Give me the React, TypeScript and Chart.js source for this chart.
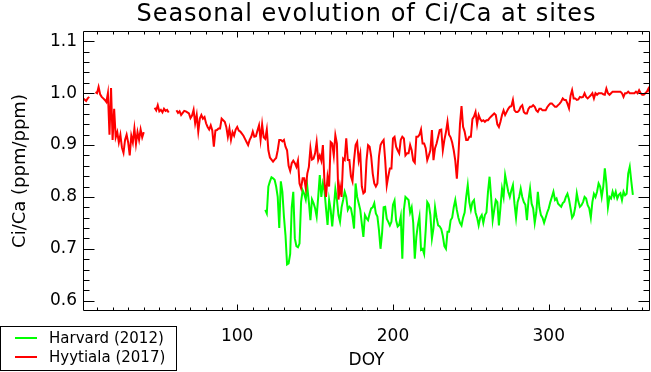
import { useEffect, useRef } from "react";
import { Chart, registerables } from "chart.js";

Chart.register(...registerables);

const TITLE = "Seasonal evolution of Ci/Ca at sites";
const X_TITLE = "DOY";
const Y_TITLE = "Ci/Ca (ppm/ppm)";
const X_TICKS = [100, 200, 300];
const Y_TICKS = [0.6, 0.7, 0.8, 0.9, 1.0, 1.1];
const X_MIN = 1;
const X_MAX = 365;
const Y_MIN = 0.58;
const Y_MAX = 1.12;

const HARVARD_LABEL = "Harvard (2012)";
const HYYTIALA_LABEL = "Hyytiala (2017)";

// Harvard 2012, one value per DOY starting at DOY 118
const HARVARD_FIRST_DOY = 118;
const HARVARD: (number | null)[] = [
  0.775, 0.768, 0.820, 0.830, 0.838, 0.836, 0.833, 0.820, 0.800, 0.740, // 118-127
  0.830, 0.810, 0.762, 0.726, 0.670, 0.672, 0.690, 0.780, 0.810, 0.720, // 128-137
  0.705, 0.703, 0.710, 0.790, 0.813, 0.806, 0.795, 0.820, 0.790, 0.755, // 138-147
  0.795, 0.788, 0.778, 0.762, 0.800, 0.842, 0.800, 0.826, 0.813, 0.778, // 148-157
  0.746, 0.794, 0.775, 0.743, 0.778, 0.815, 0.795, 0.765, 0.752, 0.780, // 158-167
  0.794, 0.810, 0.800, 0.775, 0.781, 0.778, 0.762, 0.739, 0.826, 0.800, // 168-177
  0.788, 0.775, 0.748, 0.723, 0.765, 0.759, 0.755, 0.768, 0.778, 0.780, // 178-187
  0.788, 0.768, 0.762, 0.736, 0.700, 0.730, 0.780, 0.781, 0.758, 0.752, // 188-197
  0.745, 0.752, 0.785, 0.793, 0.755, 0.743, 0.746, 0.762, 0.681, 0.775, // 198-207
  0.800, 0.797, 0.794, 0.770, 0.780, 0.750, 0.681, 0.723, 0.746, 0.762, // 208-217
  0.698, 0.700, 0.690, 0.736, 0.790, 0.785, 0.765, 0.720, 0.740, 0.780, // 218-227
  0.760, 0.745, 0.743, 0.738, 0.725, 0.705, 0.700, 0.733, 0.733, 0.755, // 228-237
  0.760, 0.780, 0.794, 0.775, 0.760, 0.750, 0.745, 0.760, 0.770, 0.800, // 238-247
  0.823, 0.790, 0.775, 0.790, 0.794, 0.770, 0.760, 0.745, 0.760, 0.765, // 248-257
  0.750, 0.765, 0.770, 0.810, 0.839, 0.800, 0.755, 0.775, 0.794, 0.790, // 258-267
  0.745, 0.780, 0.816, 0.800, 0.842, 0.826, 0.810, 0.800, 0.813, 0.823, // 268-277
  0.787, 0.760, 0.790, 0.800, 0.816, 0.800, 0.790, 0.785, 0.755, 0.794, // 278-287
  0.816, 0.787, 0.778, 0.750, 0.770, 0.810, 0.780, 0.765, 0.760, 0.750, // 288-297
  0.760, 0.770, 0.778, 0.790, 0.800, 0.810, 0.794, 0.797, 0.787, 0.784, // 298-307
  0.781, 0.788, 0.791, 0.800, 0.806, 0.795, 0.778, 0.760, 0.765, 0.780, // 308-317
  0.807, 0.791, 0.781, 0.784, 0.790, 0.800, 0.797, 0.784, 0.778, 0.760, // 318-327
  0.790, 0.806, 0.800, 0.810, 0.826, 0.820, 0.800, 0.820, 0.855, 0.826, // 328-337
  0.780, 0.800, 0.797, 0.810, 0.800, 0.810, 0.797, 0.804, 0.807, 0.794, // 338-347
  0.810, 0.803, 0.806, 0.845, 0.858, 0.830, 0.804, // 348-354
];

// Hyytiala 2017, one value per DOY starting at DOY 1 (null = missing)
const HYYTIALA_FIRST_DOY = 1;
const HYYTIALA: (number | null)[] = [
  0.990, 0.988, 0.985, 0.990, 0.993, null, null, null, // 1-8
  1.002, 1.000, 1.012, 0.998, 0.993, 0.990, 0.987, 0.983, 1.000, 0.920, 1.010, 0.910, // 9-20
  0.970, 0.915, 0.925, 0.905, 0.920, 0.895, 0.885, 0.910, 0.920, 0.905, // 21-30
  0.880, 0.918, 0.905, 0.932, 0.902, 0.925, 0.910, 0.930, 0.915, 0.925, // 31-40
  null, null, null, null, null, null, // 41-46
  0.972, 0.967, 0.977, 0.965, 0.968, 0.963, 0.970, 0.966, 0.968, 0.963, // 47-56
  null, null, null, null, // 57-60
  0.967, 0.962, 0.965, 0.958, 0.962, 0.966, 0.965, 0.963, 0.961, 0.952, // 61-70
  0.957, 0.968, 0.942, 0.958, 0.926, 0.951, 0.958, 0.951, 0.954, 0.942, // 71-80
  0.935, 0.930, 0.938, 0.928, 0.897, 0.928, 0.929, 0.932, 0.932, 0.951, // 81-90
  0.948, 0.945, 0.935, 0.916, 0.932, 0.910, 0.925, 0.918, 0.930, 0.935, // 91-100
  0.928, 0.926, 0.922, 0.918, 0.912, 0.906, 0.900, 0.910, 0.916, 0.926, // 101-110
  0.916, 0.917, 0.928, 0.938, 0.910, 0.940, 0.915, 0.912, 0.930, 0.890, // 111-120
  0.876, 0.872, 0.868, 0.872, 0.875, 0.890, 0.910, // 121-127
  0.910, 0.907, 0.910, 0.897, 0.890, 0.860, 0.850, 0.865, 0.870, 0.865, // 128-137
  0.858, 0.870, 0.826, // 138-140
  0.817, 0.836, 0.836, 0.817, 0.845, 0.858, 0.894, 0.872, 0.874, 0.884, // 141-150
  0.906, 0.871, 0.880, 0.870, 0.900, 0.830, 0.800, 0.839, 0.820, 0.906, // 151-160
  0.903, 0.880, 0.919, 0.903, 0.795, 0.820, 0.800, 0.874, 0.871, 0.913, // 161-170
  0.871, 0.871, 0.840, 0.830, 0.871, 0.900, 0.906, 0.870, 0.884, 0.820, // 171-180
  0.807, 0.810, 0.870, 0.900, 0.897, 0.878, 0.845, 0.826, 0.820, 0.826, // 181-190
  0.878, 0.900, 0.906, 0.910, 0.871, 0.822, 0.840, 0.855, 0.855, 0.913, // 191-200
  0.916, 0.897, 0.890, 0.884, 0.910, 0.916, 0.913, 0.880, 0.884, 0.884, // 201-210
  0.900, 0.890, 0.870, 0.866, 0.916, 0.916, 0.920, 0.930, 0.903, 0.903, // 211-220
  0.894, 0.871, 0.880, 0.890, 0.929, 0.871, 0.894, 0.903, 0.916, 0.929, // 221-230
  0.930, 0.890, 0.910, 0.925, 0.945, 0.920, 0.915, 0.905, 0.890, 0.870, // 231-240
  0.835, 0.880, 0.940, 0.975, 0.935, 0.926, 0.910, 0.910, 0.916, 0.916, // 241-250
  0.950, 0.955, 0.964, 0.940, 0.958, 0.950, 0.946, 0.948, 0.945, 0.948, // 251-260
  0.948, 0.952, 0.955, 0.958, 0.961, 0.958, 0.940, 0.935, 0.945, 0.958, // 261-270
  0.967, 0.958, 0.964, 0.970, 0.974, 0.975, 0.987, 0.967, 0.964, 0.964, // 271-280
  0.967, 0.974, 0.977, 0.964, 0.961, 0.961, 0.970, 0.974, 0.974, 0.977, // 281-290
  0.974, 0.967, 0.964, 0.970, 0.970, 0.967, 0.967, 0.967, 0.973, 0.977, // 291-300
  0.980, 0.980, 0.977, 0.974, 0.974, 0.977, 0.980, 0.984, 0.990, 0.987, // 301-310
  0.987, 0.980, 0.971, 0.995, 1.006, 0.990, 0.990, 0.987, 0.988, 0.993, // 311-320
  0.992, 0.993, 1.000, 0.993, 0.990, 0.993, 0.996, 1.000, 0.990, 1.000, // 321-330
  0.997, 1.000, 1.000, 1.000, 0.998, 0.997, 1.009, 1.000, 0.997, 1.000, // 331-340
  1.003, 1.003, 1.003, 1.003, 1.003, 1.003, 1.000, 0.993, 1.000, 1.000, // 341-350
  1.003, 1.000, 1.000, 1.000, 1.000, 1.003, 1.000, 1.006, 1.000, 0.997, // 351-360
  0.997, 1.000, 1.003, 1.009, 1.000, // 361-365
];

const FONT = "DejaVu Sans";

const toPoints = (first: number, vals: (number | null)[]) =>
  vals.map((v, i) => ({ x: first + i, y: v }));

const titlePlugin = {
  id: "centeredTitle",
  afterDraw(chart: any) {
    const { ctx, chartArea: a } = chart;
    ctx.save();
    ctx.font = `24px "${FONT}"`;
    (ctx as any).letterSpacing = "1px";
    ctx.fillStyle = "#000";
    ctx.textAlign = "center";
    ctx.textBaseline = "middle";
    ctx.fillText(TITLE, (a.left + a.right) / 2, 15);
    ctx.restore();
  },
};

const framePlugin = {
  id: "idlFrame",
  afterDatasetsDraw(chart: any) {
    const { ctx, chartArea: a, scales } = chart;
    const xs = scales.x;
    const ys = scales.y;
    const px = (v: number) => Math.round(v) + 0.5;
    const L = px(a.left), R = px(a.right - 1), T = px(a.top), B = px(a.bottom - 1);
    ctx.save();
    ctx.strokeStyle = "#000";
    ctx.lineWidth = 1;
    ctx.beginPath();
    ctx.rect(L, T, R - L, B - T);
    for (let v = 10; v < X_MAX; v += 10) {
      const major = X_TICKS.includes(v);
      const len = major ? 6 : 3;
      const x = px(xs.getPixelForValue(v));
      ctx.moveTo(x, B);
      ctx.lineTo(x, B - len);
      ctx.moveTo(x, T);
      ctx.lineTo(x, T + len);
    }
    for (let i = 30; i <= 55; i++) {
      const v = i * 0.02;
      const major = i % 5 === 0;
      const len = major ? 11 : 6;
      const y = px(ys.getPixelForValue(v));
      ctx.moveTo(L, y);
      ctx.lineTo(L + len, y);
      ctx.moveTo(R, y);
      ctx.lineTo(R - len, y);
    }
    ctx.stroke();
    ctx.restore();
  },
};

const legendPlugin = {
  id: "boxLegend",
  afterDraw(chart: any) {
    const { ctx } = chart;
    const ds = chart.data.datasets;
    ctx.save();
    ctx.strokeStyle = "#000";
    ctx.lineWidth = 1;
    ctx.strokeRect(0.5, 326.5, 176, 44);
    ctx.font = `15px "${FONT}"`;
    ctx.textBaseline = "middle";
    ctx.textAlign = "left";
    ds.forEach((d: any, i: number) => {
      const y = 338 + i * 19;
      ctx.strokeStyle = d.borderColor;
      ctx.lineWidth = 2;
      ctx.beginPath();
      ctx.moveTo(15, y);
      ctx.lineTo(37, y);
      ctx.stroke();
      ctx.fillStyle = "#000";
      ctx.fillText(d.label, 49, y + 1);
    });
    ctx.restore();
  },
};

export default function App() {
  const ref = useRef<HTMLCanvasElement | null>(null);

  useEffect(() => {
    document.body.style.margin = "0";
    const canvas = ref.current;
    if (!canvas) return;
    Chart.defaults.font.family = FONT;
    Chart.defaults.color = "#000";
    const chart = new Chart(canvas, {
      type: "line",
      data: {
        datasets: [
          {
            label: HARVARD_LABEL,
            data: toPoints(HARVARD_FIRST_DOY, HARVARD),
            borderColor: "#00ff00",
            borderWidth: 2,
            pointRadius: 0,
            tension: 0,
            spanGaps: false,
            order: 1,
          },
          {
            label: HYYTIALA_LABEL,
            data: toPoints(HYYTIALA_FIRST_DOY, HYYTIALA),
            borderColor: "#ff0000",
            borderWidth: 2,
            pointRadius: 0,
            tension: 0,
            spanGaps: false,
            order: 0,
          },
        ],
      },
      options: {
        animation: false,
        responsive: false,
        maintainAspectRatio: false,
        layout: { padding: { left: 0, right: 1, top: 31, bottom: 0 } },
        plugins: {
          legend: { display: false },
          tooltip: { enabled: false },
          title: { display: false },
        },
        scales: {
          x: {
            type: "linear",
            min: X_MIN,
            max: X_MAX,
            grid: { display: false, drawTicks: false },
            border: { display: false },
            afterBuildTicks: (s: any) => {
              s.ticks = X_TICKS.map((v) => ({ value: v }));
            },
            afterFit: (s: any) => {
              s.height = 61;
            },
            ticks: {
              padding: 15,
              maxRotation: 0,
              autoSkip: false,
              font: { family: FONT, size: 17 },
              color: "#000",
              callback: (v: any) => String(v),
            },
            title: {
              display: true,
              text: X_TITLE,
              color: "#000",
              font: { family: FONT, size: 17 },
              padding: { top: 1, bottom: 1 },
            },
          },
          y: {
            type: "linear",
            min: Y_MIN,
            max: Y_MAX,
            grid: { display: false, drawTicks: false },
            border: { display: false },
            afterBuildTicks: (s: any) => {
              s.ticks = Y_TICKS.map((v) => ({ value: v }));
            },
            afterFit: (s: any) => {
              s.width = 83;
            },
            ticks: {
              padding: 6,
              autoSkip: false,
              font: { family: FONT, size: 17 },
              color: "#000",
              callback: (v: any) => Number(v).toFixed(1),
            },
            title: {
              display: true,
              text: Y_TITLE,
              color: "#000",
              font: { family: FONT, size: 18 },
              padding: { top: 10, bottom: 10 },
            },
          },
        },
      },
      plugins: [framePlugin, legendPlugin, titlePlugin],
    });
    return () => chart.destroy();
  }, []);

  return (
    <div style={{ width: 651, height: 372, background: "#fff" }}>
      <canvas ref={ref} width={651} height={372} style={{ display: "block" }} />
    </div>
  );
}
